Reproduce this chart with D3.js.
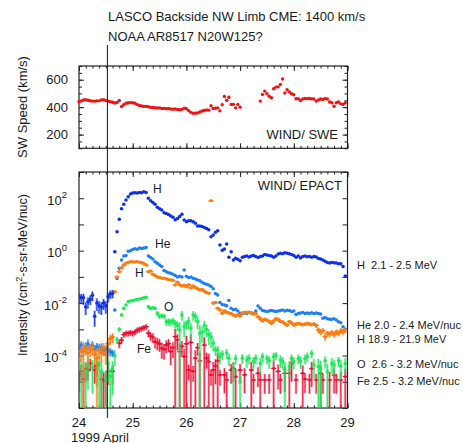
<!DOCTYPE html>
<html><head><meta charset="utf-8">
<script src="https://cdn.jsdelivr.net/npm/d3@7"></script>
<style>
body{margin:0;background:#fff}
text{font-family:"Liberation Sans",Arial,Helvetica,sans-serif;fill:#1a1a1a}
</style>
</head><body>
<svg id="c" width="463" height="443"></svg>
<script>
// ---------------- DATA ----------------
const startDay = 24;           // 1999 April 24, 00 UT
const stepHours = 1;           // hourly samples
const dayTicks = [24, 25, 26, 27, 28, 29];
const speedTicks = [200, 400, 600];
const intensityTickExps = [2, 0, -2, -4];
const cmeTime = 24.53;

const titleLines = ["LASCO Backside NW Limb CME: 1400 km/s", "NOAA AR8517 N20W125?"];

// WIND/SWE solar wind speed (km/s), hourly
const speed = [440,445,452,454,450,447,444,444,446,446,452,454,449,444,439,436,430,434,448,405,418,428,432,433,
 432,428,420,412,408,405,406,403,398,398,396,394,395,390,391,388,390,386,385,386,383,381,384,392,
 388,375,362,356,355,358,365,372,376,380,378,410,390,392,395,373,418,478,450,472,420,420,395,420,
 400,null,null,null,null,null,null,null,null,444,492,517,498,480,468,534,546,548,566,605,503,527,510,498,
 490,461,461,449,459,463,462,463,460,459,444,452,459,456,463,459,437,432,407,432,437,424,420,432];

// WIND/EPACT intensities, log10(/cm2-s-sr-MeV/nuc), hourly
const hLow = [-1.75,-1.8,-1.8,-2.15,-1.95,-1.85,-1.7,-2.5,-2.0,-2.1,-2.15,-2.0,-2.1,-1.75,-1.65,-1.63,-0.04,0.72,1.2,1.6,1.77,1.93,2.06,2.16,
 2.2,2.21,2.2,2.22,2.21,2.25,2.22,2.0,1.9,1.84,1.77,1.66,1.6,1.55,1.45,1.42,1.38,1.32,1.27,1.18,1.23,1.3,1.39,1.17,
 1.1,1.14,1.14,1.1,1.05,0.94,0.94,0.92,0.88,0.85,0.8,0.53,0.6,0.7,0.76,0.22,0.02,0.06,0.25,-0.25,-0.04,-0.36,-0.29,-0.33,
 -0.38,-0.25,-0.22,-0.2,-0.24,-0.2,-0.18,-0.22,-0.26,-0.22,-0.2,-0.15,-0.17,-0.18,-0.2,-0.25,-0.2,-0.13,-0.1,-0.12,-0.08,-0.1,-0.12,-0.15,
 -0.18,-0.25,-0.2,-0.28,-0.22,-0.2,-0.23,-0.22,-0.25,-0.22,-0.24,-0.3,-0.32,-0.36,-0.4,-0.45,-0.47,-0.45,-0.46,-0.47,-0.5,-0.5,-0.6,-0.97];
const hLowErr = [0.4,0.4,0.45,0.5,0.45,0.4,0.4,0.6,0.5,0.5,0.5,0.45,0.5,0.4,0.35,0.35,0.1,0.05,0.05,0.05,0.05,0.05,0.05,0.05,
 0.05,0.05,0.05,0.05,0.05,0.05,0.05,0.05,0.05,0.05,0.05,0.05,0.05,0.05,0.05,0.05,0.05,0.05,0.05,0.05,0.05,0.05,0.05,0.05,
 0.05,0.05,0.05,0.05,0.05,0.05,0.05,0.05,0.05,0.05,0.05,0.05,0.05,0.05,0.05,0.05,0.05,0.05,0.05,0.05,0.05,0.05,0.05,0.05,
 0.05,0.05,0.05,0.05,0.05,0.05,0.05,0.05,0.05,0.05,0.05,0.05,0.05,0.05,0.05,0.05,0.05,0.05,0.05,0.05,0.05,0.05,0.05,0.05,
 0.05,0.05,0.05,0.05,0.05,0.05,0.05,0.05,0.05,0.05,0.05,0.05,0.05,0.05,0.05,0.05,0.05,0.05,0.05,0.05,0.05,0.05,0.05,0.08];

const he = [-3.7,-3.6,-3.8,-3.65,-3.55,-3.7,-3.6,-3.75,-3.65,-3.7,-3.7,-3.8,-3.75,-3.8,-3.85,-3.9,-2.26,-1.06,-0.67,-0.36,-0.2,-0.18,-0.02,0.0,
 0.04,0.07,0.05,0.1,0.08,0.1,0.12,-0.2,-0.26,-0.32,-0.42,-0.48,-0.55,-0.6,-0.76,-0.8,-0.84,-0.86,-0.9,-0.95,-1.0,-0.98,-1.0,-0.74,
 -0.98,-1.02,-1.0,-1.05,-1.08,-1.12,-1.15,-1.2,-1.25,-1.28,-1.31,-1.37,-1.45,-1.63,-1.69,-1.98,-2.05,-2.07,-2.1,-1.9,-2.2,-2.25,-2.23,-2.3,
 -2.39,-2.4,-2.38,-2.4,-2.36,-2.38,-2.4,-2.3,-2.11,-2.2,-2.28,-2.3,-2.32,-2.3,-2.28,-2.3,-2.32,-2.3,-2.28,-2.26,-2.3,-2.27,-2.28,-2.32,
 -2.3,-2.43,-2.4,-2.38,-2.36,-2.4,-2.38,-2.4,-2.37,-2.4,-2.38,-2.4,-2.42,-2.58,-2.55,-2.6,-2.62,-2.62,-2.6,-2.64,-2.71,-2.75,-2.9,-3.0];
const heErr = [0.35,0.4,0.35,0.4,0.45,0.35,0.4,0.4,0.35,0.4,0.45,0.4,0.35,0.4,0.35,0.3,0.1,0.05,0.05,0.05,0.05,0.05,0.05,0.05,
 0.05,0.05,0.05,0.05,0.05,0.05,0.05,0.05,0.05,0.05,0.05,0.05,0.05,0.05,0.05,0.05,0.05,0.05,0.05,0.05,0.05,0.05,0.05,0.05,
 0.05,0.05,0.05,0.05,0.05,0.05,0.05,0.05,0.05,0.05,0.05,0.05,0.05,0.08,0.08,0.08,0.08,0.08,0.08,0.08,0.08,0.08,0.08,0.08,
 0.08,0.08,0.08,0.08,0.08,0.08,0.08,0.08,0.08,0.08,0.08,0.08,0.08,0.08,0.08,0.08,0.08,0.08,0.08,0.08,0.08,0.08,0.08,0.08,
 0.08,0.08,0.08,0.08,0.08,0.08,0.08,0.08,0.08,0.08,0.08,0.08,0.08,0.08,0.08,0.08,0.08,0.08,0.08,0.08,0.08,0.08,0.08,0.1];

const hHigh = [-4.2,-3.85,-3.8,-3.7,-3.9,-3.75,-3.7,-3.95,-4.1,-3.8,-3.9,-3.7,-3.95,-3.55,-3.35,-3.3,-1.57,-1.0,-0.8,-0.65,-0.55,-0.48,-0.45,-0.42,
 -0.42,-0.43,-0.42,-0.44,-0.45,-0.5,-0.55,-0.8,-0.78,-0.9,-0.95,-1.0,-1.02,-1.05,-1.05,-1.07,-1.1,-1.12,-1.13,-1.31,-1.2,-1.3,-1.35,-1.32,
 -1.38,-1.3,-1.42,-1.35,-1.4,-1.45,-1.5,-1.48,-1.55,-1.6,-1.62,1.9,-2.0,-1.98,-2.2,-2.26,-2.39,-2.3,-2.35,-2.38,-2.4,-2.45,-2.49,-2.45,
 -2.49,-2.38,-2.35,-2.35,-2.35,-2.38,-2.42,-2.4,-2.52,-2.6,-2.67,-2.62,-2.65,-2.7,-2.77,-2.68,-2.6,-2.62,-2.7,-2.72,-2.78,-2.83,-2.7,-2.75,
 -2.83,-2.8,-2.78,-2.8,-2.82,-2.8,-2.78,-2.8,-2.82,-2.8,-2.85,-3.03,-3.1,-3.05,-3.28,-3.15,-3.18,-3.12,-3.2,-3.1,-3.15,-3.05,-3.1,-3.03];
const hHighErr = [0.6,0.5,1,0.5,0.6,0.5,0.5,0.6,1,0.5,0.6,0.5,0.6,0.5,0.4,0.4,0.1,0.05,0.05,0.05,0.05,0.05,0.05,0.05,
 0.05,0.05,0.05,0.05,0.05,0.05,0.05,0.05,0.05,0.05,0.05,0.05,0.05,0.05,0.05,0.05,0.05,0.05,0.05,0.05,0.05,0.05,0.05,0.05,
 0.05,0.05,0.05,0.05,0.05,0.05,0.05,0.05,0.05,0.05,0.05,0.05,0.12,0.12,0.12,0.12,0.12,0.12,0.12,0.12,0.12,0.12,0.12,0.12,
 0.12,0.12,0.12,0.12,0.12,0.12,0.12,0.12,0.12,0.15,0.15,0.15,0.15,0.15,0.15,0.15,0.15,0.15,0.15,0.15,0.15,0.15,0.15,0.15,
 0.15,0.15,0.15,0.15,0.15,0.15,0.15,0.15,0.15,0.15,0.2,0.25,0.25,0.25,0.3,0.25,0.25,0.25,0.25,0.25,0.25,0.25,0.25,0.25];

const oxy = [null,-4.4,null,-4.6,-4.3,null,-4.45,null,-4.5,-4.3,-4.6,null,-4.9,-4.3,-4.8,-4.5,-4.0,-3.4,-3.0,-2.45,-2.2,-2.07,-1.95,-1.92,
 -1.9,-1.88,-1.86,-1.84,-1.82,-1.8,-1.78,-2.14,-2.2,-2.18,-2.2,-2.39,-2.5,-2.48,-2.5,-2.71,-2.7,-2.72,-2.68,-2.77,-2.84,-3.03,-2.45,-2.9,
 -2.8,-2.7,-2.95,-2.45,-2.5,-2.7,-3.15,-3.1,-2.85,-3.0,-3.2,-3.3,-3.53,-3.79,-3.79,-4.04,-3.95,null,-3.9,-4.1,null,-4.55,-4.11,null,
 -5.0,-4.1,null,-4.17,-4.1,null,-4.23,-4.1,null,-4.3,-4.04,null,-4.11,-4.2,null,-4.04,-4.0,null,-4.17,-4.23,-4.55,null,-4.42,-4.11,
 -4.23,null,-4.11,-4.2,null,-4.11,-4.04,null,-3.92,-4.36,null,-4.42,-4.5,null,-4.2,-4.62,null,-4.3,-4.36,null,-4.2,-4.4,null,-4.3];
const oxyErr = [1,1,1,1,0.9,1,0.9,1,0.8,1,1,1,1,0.8,1,0.9,0.6,0.3,0.2,0.12,0.1,0.1,0.1,0.1,
 0.1,0.1,0.1,0.1,0.1,0.1,0.1,0.15,0.15,0.15,0.15,0.2,0.2,0.2,0.2,0.3,0.3,0.3,0.3,0.35,0.4,1,0.4,0.6,
 0.4,0.5,0.6,0.4,0.4,0.5,1,0.6,0.5,0.5,0.6,0.6,0.5,0.4,0.4,0.5,0.4,0.4,0.4,0.5,0.4,1,0.4,0.5,
 1,0.4,0.4,0.5,0.4,0.35,0.5,0.4,0.5,0.6,0.4,0.4,0.4,0.5,0.4,0.4,0.35,0.35,0.5,0.5,1,0.5,0.6,0.4,
 0.5,0.4,0.4,0.5,0.6,0.4,0.4,0.35,0.35,0.7,0.6,1,1,0.4,0.5,1,0.6,0.6,0.6,0.5,0.4,0.7,0.6,0.6];

const fe = [-4.7,-4.6,-4.9,-4.5,-4.55,-4.3,null,-4.55,-4.4,null,-4.9,-4.95,-4.9,-4.6,null,-4.6,null,null,-3.53,-3.41,-3.2,-3.15,-3.15,-3.12,
 -3.15,-3.1,-3.03,-3.0,-2.97,-2.93,-2.9,-3.15,-3.25,-3.3,-3.47,-3.5,-3.55,-3.72,-3.76,-3.6,-3.55,-3.85,-3.7,-3.28,-3.4,-3.85,-3.65,-4.04,
 -3.55,-4.55,-3.5,-4.6,-4.1,-3.7,-4.2,null,-3.6,-4.1,-4.23,-4.74,-4.55,-4.4,-4.2,-4.74,null,-4.74,-4.93,null,-4.55,-4.49,-4.81,null,
 -4.55,null,-4.74,null,null,-4.55,-4.93,null,-4.68,-4.93,null,-4.93,null,-4.93,null,-4.49,null,-4.6,-4.93,null,-4.68,null,-4.68,-4.3,
 null,-4.93,null,null,-4.68,-4.9,null,-4.93,-4.5,null,-4.93,null,-4.68,-4.93,null,null,-4.93,null,-4.75,-4.93,null,-4.93,null,-4.8];
const feErr = [0.8,0.6,1,0.7,0.6,0.5,0,0.7,0.6,0,1,1,0.9,0.7,0,0.7,0,0,0.35,0.3,0.25,0.25,0.25,0.25,
 0.25,0.25,0.25,0.25,0.25,0.25,0.25,0.3,0.35,0.4,0.45,0.5,0.5,0.6,0.6,0.5,0.5,0.7,0.6,1,0.6,1,0.6,1,
 1,0.6,1,0.6,1,0.5,1,0,1,0.6,1,0.6,1,0.8,1,0.6,0,0.8,1,0,0.7,0.7,1,0,
 0.7,0,0.8,0,0,1,0.7,0,0.7,1,0,0.7,0,0.7,0,1,0,0.8,0.7,0,0.8,0,1,0.8,
 0,0.7,0,0,1,0.7,0,0.7,0.8,0,0.7,0,1,0.7,0,0,1,0,0.8,0.7,0,1,0,1];

const seriesNames = ["Fe", "O", "He", "Hhigh", "Hlow"];
const seriesLabels = ["Fe 2.5 - 3.2 MeV/nuc", "O  2.6 - 3.2 MeV/nuc", "He 2.0 - 2.4 MeV/nuc", "H 18.9 - 21.9 MeV", "H  2.1 - 2.5 MeV"];
const inlineLabels = ["Fe", "O", "He", "H", "H"];

// ---------------- DRAW ----------------
const colors = {Fe:"#ec0f33", O:"#1de85a", He:"#1f7ff5", Hhigh:"#fb7d10", Hlow:"#0d2ff0"};
const seriesData = {Fe:[fe,feErr], O:[oxy,oxyErr], He:[he,heErr], Hhigh:[hHigh,hHighErr], Hlow:[hLow,hLowErr]};

const svg = d3.select("#c");
const L = 79, R = 347.5;
const topP = {t:66, b:148.3};
const botP = {t:172, b:408};

const x = d3.scaleLinear().domain([24, 29]).range([L, R]);
const yS = d3.scaleLinear().domain([100, 700]).range([topP.b, topP.t]);
const yI = d3.scaleLog().domain([1e-6, 1e3]).range([botP.b, botP.t]);
const tOf = i => startDay + i * stepHours / 24;

const minorT = d3.range(24, 29.0001, 0.125);

function frame(p){
  svg.append("rect").attr("x", L).attr("y", p.t).attr("width", R-L).attr("height", p.b-p.t)
    .attr("fill","none").attr("stroke","#222").attr("stroke-width",1.2);
}
function axisG(gen, tx, ty){
  const g = svg.append("g").attr("transform",`translate(${tx},${ty})`).call(gen);
  g.select(".domain").remove();
  g.selectAll("line").attr("stroke","#222");
  return g;
}
function timeTicks(p){
  axisG(d3.axisTop(x).tickValues(minorT).tickSize(-2.5).tickFormat(""), 0, p.t);
  axisG(d3.axisTop(x).tickValues(dayTicks).tickSize(-5).tickFormat(""), 0, p.t);
  axisG(d3.axisBottom(x).tickValues(minorT).tickSize(-2.5).tickFormat(""), 0, p.b);
  axisG(d3.axisBottom(x).tickValues(dayTicks).tickSize(-5).tickFormat(""), 0, p.b);
}

// ---- top panel
frame(topP);
timeTicks(topP);
const spMinor = d3.range(100, 701, 50);
axisG(d3.axisLeft(yS).tickValues(spMinor).tickSize(-3).tickFormat(""), L, 0);
axisG(d3.axisRight(yS).tickValues(spMinor).tickSize(-3).tickFormat(""), R, 0);
axisG(d3.axisLeft(yS).tickValues(speedTicks).tickSize(-5).tickFormat(""), L, 0);
axisG(d3.axisRight(yS).tickValues(speedTicks).tickSize(-5).tickFormat(""), R, 0);
speedTicks.forEach(v => {
  svg.append("text").attr("x", 68).attr("y", yS(v)+4.6).attr("text-anchor","end")
    .attr("font-size","13px").text(v);
});
svg.append("g").selectAll("circle").data(speed.map((v,i)=>({t:tOf(i), v})).filter(d=>d.v!=null))
  .join("circle").attr("cx", d=>x(d.t)).attr("cy", d=>yS(d.v)).attr("r",1.7).attr("fill","#f01212");
svg.append("text").attr("x", 338).attr("y", 139).attr("text-anchor","end").attr("font-size","13px").text("WIND/ SWE");
svg.append("text").attr("transform","translate(26.5,107) rotate(-90)").attr("text-anchor","middle")
  .attr("font-size","13px").text("SW Speed (km/s)");

// ---- bottom panel
frame(botP);
timeTicks(botP);
const decades = d3.range(-6, 4).map(e => Math.pow(10, e));
axisG(d3.axisLeft(yI).tickValues(decades).tickSize(-5).tickFormat(""), L, 0);
axisG(d3.axisRight(yI).tickValues(decades).tickSize(-5).tickFormat(""), R, 0);
intensityTickExps.forEach(e => {
  const t = svg.append("text").attr("x", 67).attr("y", yI(Math.pow(10,e))+6.5).attr("text-anchor","end").attr("font-size","13px");
  t.append("tspan").text("10");
  t.append("tspan").attr("dy",-6.5).attr("font-size","9.5px").text(String(e));
});

svg.append("clipPath").attr("id","clipB").append("rect").attr("x",L).attr("y",botP.t).attr("width",R-L).attr("height",botP.b-botP.t);
const plotB = svg.append("g").attr("clip-path","url(#clipB)");

seriesNames.forEach(name => {
  const [vals, errs] = seriesData[name];
  const col = colors[name];
  const pts = vals.map((lv,i)=>({t:tOf(i), v: lv==null?null:Math.pow(10,lv), e: errs[i]})).filter(d=>d.v!=null);
  const g = plotB.append("g");
  const lo = d => d.e>=1 ? botP.b+5 : yI(d.v*(1-d.e));
  const hi = d => yI(d.v*(1+d.e));
  g.selectAll("line.band").data(pts.filter(d=>d.e>0)).join("line").attr("class","band")
    .attr("x1",d=>x(d.t)).attr("x2",d=>x(d.t)).attr("y1",lo).attr("y2",hi)
    .attr("stroke",col).attr("stroke-opacity",0.4).attr("stroke-width",2.6);
  g.selectAll("line.err").data(pts.filter(d=>d.e>0)).join("line").attr("class","err")
    .attr("x1",d=>x(d.t)).attr("x2",d=>x(d.t)).attr("y1",lo).attr("y2",hi)
    .attr("stroke",col).attr("stroke-width",0.9);
  if (name==="Fe" || name==="Hhigh") {
    g.selectAll("line.cap").data(pts).join("line").attr("class","cap")
      .attr("x1",d=>x(d.t)-2.5).attr("x2",d=>x(d.t)+2.5).attr("y1",d=>yI(d.v)).attr("y2",d=>yI(d.v))
      .attr("stroke",col).attr("stroke-width",1.3);
  }
  g.selectAll("circle").data(pts).join("circle").attr("cx",d=>x(d.t)).attr("cy",d=>yI(d.v))
    .attr("r", name==="Fe"?1.3:1.75).attr("fill",col);
});

// in-plot labels
const inlinePos = [[137,353],[164,311],[155,248],[135,277],[153,193]];
inlineLabels.forEach((s,i)=>{
  svg.append("text").attr("x",inlinePos[i][0]).attr("y",inlinePos[i][1]).attr("font-size","12px").text(s);
});
svg.append("text").attr("x", 342).attr("y", 190).attr("text-anchor","end").attr("font-size","13px").text("WIND/ EPACT");

// right-side legend labels
const legendY = [385, 368, 329, 343, 269];
seriesLabels.forEach((s,i)=>{
  svg.append("text").attr("x",357).attr("y",legendY[i]).attr("font-size","11px")
    .style("white-space","pre").attr("xml:space","preserve").text(s);
});

// y label bottom
const yl = svg.append("text").attr("transform","translate(26.5,275) rotate(-90)").attr("text-anchor","middle").attr("font-size","12.5px");
yl.append("tspan").text("Intensity (/cm");
yl.append("tspan").attr("dy",-5).attr("font-size","9px").text("2");
yl.append("tspan").attr("dy",5).text("-s-sr-MeV/nuc)");

// x tick labels
dayTicks.forEach(d=>{
  svg.append("text").attr("x",x(d)).attr("y",427).attr("text-anchor","middle").attr("font-size","13px").text(d);
});
svg.append("text").attr("x",71).attr("y",441.5).attr("font-size","13px").text("1999 April");

// title lines
titleLines.forEach((s,i)=>{
  svg.append("text").attr("x",108).attr("y",21+i*20).attr("font-size","13px").text(s);
});

// CME onset marker line
svg.append("line").attr("x1",x(cmeTime)).attr("x2",x(cmeTime)).attr("y1",45).attr("y2",418)
  .attr("stroke","#333").attr("stroke-width",1.2);
</script>
</body></html>
